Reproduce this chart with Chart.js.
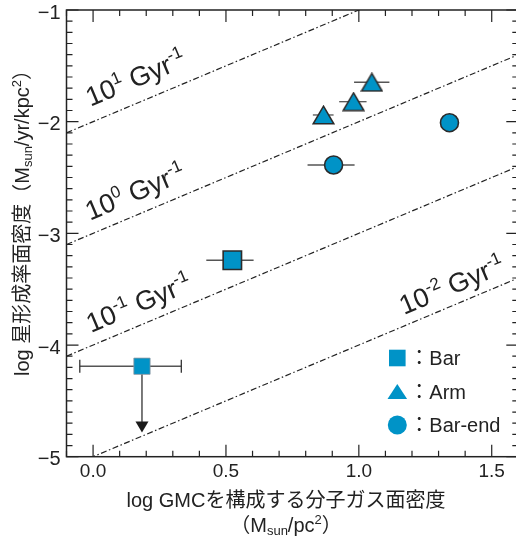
<!DOCTYPE html>
<html>
<head>
<meta charset="utf-8">
<script src="https://cdn.jsdelivr.net/npm/chart.js@4.4.1/dist/chart.umd.min.js"></script>
<style>
  html, body { margin: 0; padding: 0; background: #fff; overflow: hidden; }
  canvas { display: block; }
</style>
</head>
<body>
<canvas id="sfr-chart" width="520" height="539"></canvas>
<script>
// log gas surface density (x) vs log star formation rate surface density (y)
const barX = [0.524, 0.184];
const barY = [-3.241, -4.190];
const barXLow = [0.426, -0.050];
const barXHigh = [0.604, 0.332];
const barLimitTo = [null, -4.784]; // second Bar point is an upper limit

const armX = [0.867, 0.980, 1.049];
const armY = [-1.940, -1.821, -1.647];
const armXLow = [0.827, 0.926, 0.982];
const armXHigh = [0.905, 1.029, 1.115];

const barEndX = [0.905, 1.341];
const barEndY = [-2.388, -2.009];
const barEndXLow = [0.807, null];
const barEndXHigh = [0.984, null];

// constant star formation efficiency, log(Gyr^-1)
const sfeLogRates = [1, 0, -1, -2];

const xRange = [-0.1, 1.6];
const yRange = [-5, -1];
const xTicks = [0, 0.5, 1, 1.5];
const xTickLabels = ['0.0', '0.5', '1.0', '1.5'];
const yTicks = [-5, -4, -3, -2, -1];
const yTickLabels = ['−5', '−4', '−3', '−2', '−1'];

const FONT = '"Liberation Sans", "Noto Sans CJK JP", sans-serif';
const TEXT = '#222';
const BLUE = '#0093c7';
const EDGE = '#2b2b2b';

// label placement along each efficiency line: start x and lift above the line (px)
const sfeLabelStart = [-0.01, -0.012, -0.008, 1.17];
const sfeLabelLift = [16, 14, 13, 11];

// Sigma_SFR [Msun/yr/kpc2] = Sigma_gas [Msun/pc2] * rate [Gyr^-1] * 1e6 / 1e9
const sfeY = (x, r) => x + r - 3;

function triangleImage(w, h, fill, stroke) {
  const c = document.createElement('canvas');
  c.width = w; c.height = h;
  const g = c.getContext('2d');
  g.beginPath();
  g.moveTo(w / 2, 1.2);
  g.lineTo(w - 1.2, h - 1.2);
  g.lineTo(1.2, h - 1.2);
  g.closePath();
  g.fillStyle = fill;
  g.fill();
  g.lineWidth = 1.5;
  g.strokeStyle = stroke;
  g.stroke();
  return c;
}

function drawRich(ctx, parts, x, y, align) {
  let total = 0;
  parts.forEach(p => {
    ctx.font = p.size + 'px ' + FONT;
    p.w = ctx.measureText(p.t).width;
    total += p.w;
  });
  let cx = align === 'center' ? x - total / 2 : x;
  ctx.textAlign = 'left';
  ctx.textBaseline = 'alphabetic';
  parts.forEach(p => {
    ctx.font = p.size + 'px ' + FONT;
    ctx.fillText(p.t, cx, y + (p.dy || 0));
    cx += p.w;
  });
}

const supText = (s) => ({ t: s, size: 17, dy: -11 });

const sfeLines = sfeLogRates.map(r => ({
  type: 'line',
  data: xRange.map(x => ({ x: x, y: sfeY(x, r) })),
  borderColor: '#222',
  borderWidth: 1.2,
  borderDash: [6, 2.5, 1.5, 2.5],
  pointRadius: 0,
  fill: false
}));

// frame, inward ticks, tick labels, axis titles, efficiency labels, legend
const decorations = {
  id: 'decorations',
  beforeDatasetsDraw(chart) {
    const ctx = chart.ctx;
    const xs = chart.scales.x, ys = chart.scales.y;
    ctx.save();
    ctx.strokeStyle = '#555';
    ctx.lineWidth = 1.3;
    const hbar = (lo, hi, y) => {
      if (lo === null) return;
      ctx.beginPath();
      ctx.moveTo(xs.getPixelForValue(lo), ys.getPixelForValue(y));
      ctx.lineTo(xs.getPixelForValue(hi), ys.getPixelForValue(y));
      ctx.stroke();
    };
    armX.forEach((x, i) => hbar(armXLow[i], armXHigh[i], armY[i]));
    barEndX.forEach((x, i) => hbar(barEndXLow[i], barEndXHigh[i], barEndY[i]));
    barX.forEach((x, i) => {
      hbar(barXLow[i], barXHigh[i], barY[i]);
      if (barLimitTo[i] === null) return;
      // capped error bar plus downward arrow for the upper limit
      const py = ys.getPixelForValue(barY[i]);
      ctx.strokeStyle = '#333';
      [barXLow[i], barXHigh[i]].forEach(v => {
        const px = xs.getPixelForValue(v);
        ctx.beginPath();
        ctx.moveTo(px, py - 6.5);
        ctx.lineTo(px, py + 6.5);
        ctx.stroke();
      });
      const px = xs.getPixelForValue(x);
      const tip = ys.getPixelForValue(barLimitTo[i]);
      ctx.beginPath();
      ctx.moveTo(px, py);
      ctx.lineTo(px, tip - 10);
      ctx.stroke();
      ctx.fillStyle = '#1a1a1a';
      ctx.beginPath();
      ctx.moveTo(px - 6.5, tip - 11);
      ctx.lineTo(px + 6.5, tip - 11);
      ctx.lineTo(px, tip);
      ctx.closePath();
      ctx.fill();
      ctx.strokeStyle = '#555';
    });
    ctx.restore();
  },
  afterDraw(chart) {
    const ctx = chart.ctx;
    const a = chart.chartArea;
    const xs = chart.scales.x, ys = chart.scales.y;
    ctx.save();

    // frame
    ctx.strokeStyle = '#222';
    ctx.lineWidth = 1.5;
    ctx.strokeRect(a.left, a.top, a.right - a.left, a.bottom - a.top);

    // ticks on all four sides, pointing inward
    ctx.lineWidth = 1.2;
    ctx.beginPath();
    for (let k = -1; k <= 16; k++) {
      const v = k / 10;
      const px = xs.getPixelForValue(v);
      const len = k % 5 === 0 ? 12 : 6;
      ctx.moveTo(px, a.bottom); ctx.lineTo(px, a.bottom - len);
      ctx.moveTo(px, a.top); ctx.lineTo(px, a.top + len);
    }
    for (let k = -50; k <= -10; k++) {
      const v = k / 10;
      const py = ys.getPixelForValue(v);
      const len = k % 10 === 0 ? 12 : 6;
      ctx.moveTo(a.left, py); ctx.lineTo(a.left + len, py);
      ctx.moveTo(a.right, py); ctx.lineTo(a.right - len, py);
    }
    ctx.stroke();

    // tick labels
    ctx.fillStyle = TEXT;
    ctx.font = '19px ' + FONT;
    ctx.textAlign = 'center';
    ctx.textBaseline = 'alphabetic';
    xTicks.forEach((v, i) => ctx.fillText(xTickLabels[i], xs.getPixelForValue(v), a.bottom + 20));
    ctx.font = '20px ' + FONT;
    ctx.textAlign = 'right';
    yTicks.forEach((v, i) => ctx.fillText(yTickLabels[i], a.left - 6, ys.getPixelForValue(v) + 8.5));

    // axis titles
    drawRich(ctx, [{ t: 'log GMCを構成する分子ガス面密度', size: 20 }], 286, a.bottom + 50, 'center');
    drawRich(ctx, [
      { t: '（M', size: 20 }, { t: 'sun', size: 13, dy: 3 },
      { t: '/pc', size: 20 }, { t: '2', size: 13, dy: -8 }, { t: '）', size: 20 }
    ], 286, a.bottom + 75, 'center');
    ctx.save();
    ctx.translate(29, 218);
    ctx.rotate(-Math.PI / 2);
    drawRich(ctx, [
      { t: 'log 星形成率面密度（M', size: 20 }, { t: 'sun', size: 13, dy: 3 },
      { t: '/yr/kpc', size: 20 }, { t: '2', size: 13, dy: -8 }, { t: '）', size: 20 }
    ], 0, 0, 'center');
    ctx.restore();

    // efficiency labels, rotated along their lines
    const ang = Math.atan2(ys.getPixelForValue(1) - ys.getPixelForValue(0),
                           xs.getPixelForValue(1) - xs.getPixelForValue(0));
    ctx.save();
    ctx.beginPath();
    ctx.rect(a.left, a.top, a.right - a.left, a.bottom - a.top);
    ctx.clip();
    sfeLogRates.forEach((r, i) => {
      const x0 = sfeLabelStart[i];
      ctx.save();
      ctx.translate(xs.getPixelForValue(x0), ys.getPixelForValue(sfeY(x0, r)) - sfeLabelLift[i]);
      ctx.rotate(ang);
      drawRich(ctx, [
        { t: '10', size: 27 }, supText(r < 0 ? '-' + (-r) : String(r)),
        { t: ' Gyr', size: 27 }, supText('-1')
      ], 0, 0, 'left');
      ctx.restore();
    });
    ctx.restore();

    // legend
    const lx = a.right - 121;
    const rows = [358, 392, 425];
    ctx.fillStyle = BLUE;
    ctx.fillRect(lx - 8.3, rows[0] - 8.3, 16.6, 16.6);
    ctx.beginPath();
    ctx.moveTo(lx, rows[1] - 8);
    ctx.lineTo(lx + 9.8, rows[1] + 7);
    ctx.lineTo(lx - 9.8, rows[1] + 7);
    ctx.closePath();
    ctx.fill();
    ctx.beginPath();
    ctx.arc(lx, rows[2], 9.5, 0, Math.PI * 2);
    ctx.fill();
    ctx.fillStyle = TEXT;
    ['：Bar', '：Arm', '：Bar-end'].forEach((t, i) => {
      drawRich(ctx, [{ t: t, size: 20 }], lx + 12, rows[i] + 7, 'left');
    });

    ctx.restore();
  }
};

new Chart(document.getElementById('sfr-chart'), {
  type: 'scatter',
  data: {
    datasets: [
      ...sfeLines,
      {
        label: 'Bar',
        data: barX.map((x, i) => ({ x: x, y: barY[i] })),
        pointStyle: 'rect',
        pointRadius: [13, 11.5],
        backgroundColor: BLUE,
        borderColor: [EDGE, 'rgba(140,150,160,0.8)'],
        borderWidth: [1.6, 1]
      },
      {
        label: 'Arm',
        data: armX.map((x, i) => ({ x: x, y: armY[i] })),
        pointStyle: triangleImage(23, 20, BLUE, EDGE),
        pointRadius: 10
      },
      {
        label: 'Bar-end',
        data: barEndX.map((x, i) => ({ x: x, y: barEndY[i] })),
        pointStyle: 'circle',
        pointRadius: 9,
        backgroundColor: BLUE,
        borderColor: EDGE,
        borderWidth: 1.6
      }
    ]
  },
  options: {
    responsive: false,
    devicePixelRatio: 1,
    animation: false,
    layout: {
      autoPadding: false,
      padding: { left: 66.5, top: 10, right: 1.7, bottom: 82.3 }
    },
    scales: {
      x: { type: 'linear', min: xRange[0], max: xRange[1], display: false },
      y: { type: 'linear', min: yRange[0], max: yRange[1], display: false }
    },
    plugins: {
      legend: { display: false },
      tooltip: { enabled: false }
    }
  },
  plugins: [decorations]
});
</script>
</body>
</html>
